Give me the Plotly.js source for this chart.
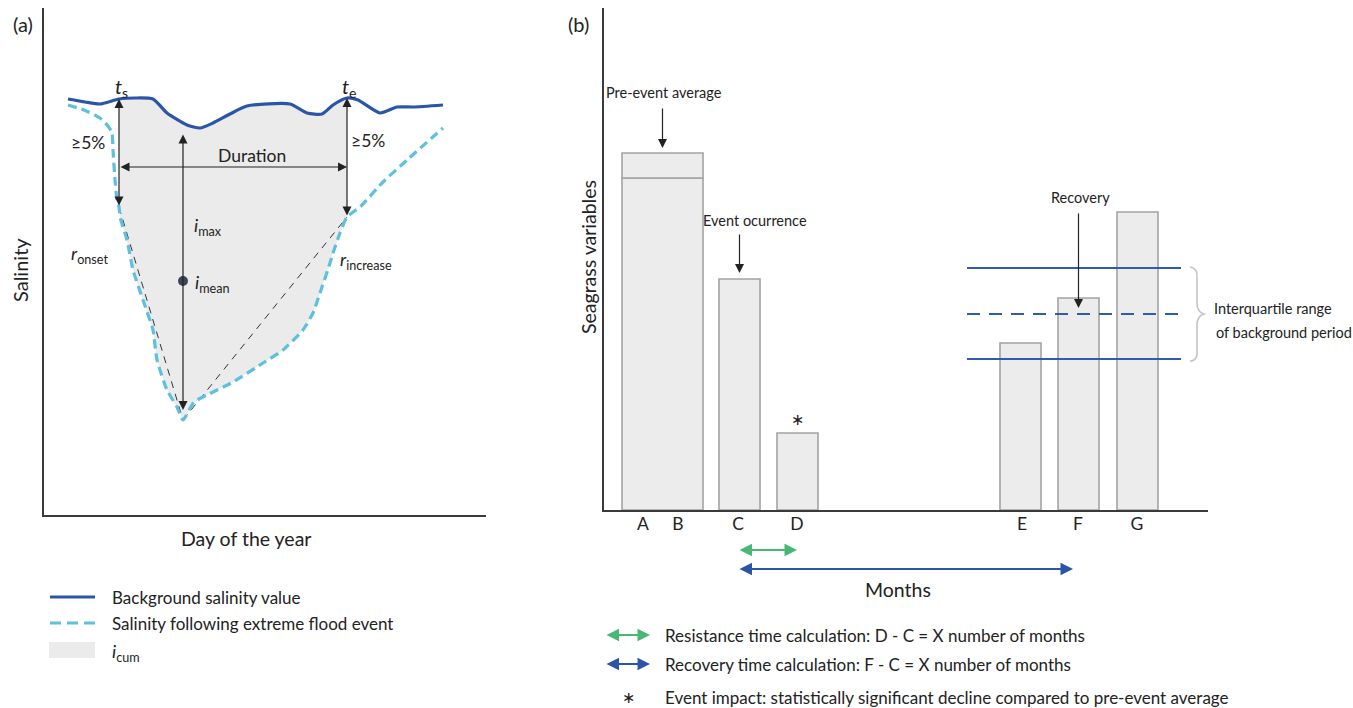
<!DOCTYPE html>
<html>
<head>
<meta charset="utf-8">
<script src="https://cdn.plot.ly/plotly-3.0.1.min.js"></script>
<style>html,body{margin:0;padding:0;background:#fff;}#chart{width:1353px;height:708px;}</style>
</head>
<body>
<div id="chart"></div>
<script>
// ---------- Panel (a): salinity schematic ----------
const dayBg = [24,41,56,75,91,109,123,143,156,169,186,203,246,263,278,289,303,314,336,353,369,399];
const salBg = [416,413,411,416,417,416,402,390,387,392,401,409,411,402,401,410,417,415,402,408,408,410];
const dayFlood = [24,40,56,64,68,69,71,73,75,76,83,89,99,109,113,123,133,139,150,163,189,219,239,259,269,276,286,289,296,303,316,339,363,399];
const salFlood = [410,405,397,389,382,365,335,315,308,298,275,245,215,185,155,125,108,95,113,120,133,152,165,185,202,222,252,262,282,298,308,333,355,387];
const eventStartDay = 75;   // t_s
const eventEndDay = 303;    // t_e
const iMeanValue = 234;
const durationLevel = 348;
const iMaxTop = 382;

// ---------- Panel (b): seagrass schematic ----------
const monthLabels = ['A','B','C','D','E','F','G'];
const monthPos = [39,74,134,193,418,474,533];
const barMonth = [58.5,135.5,193.5,416.5,474.5,533.5];
const barValue = [332,231,77,167,212,298];
const preEventAverage = 357;
const iqrLow = 151, iqrMedian = 196, iqrHigh = 242;
const iqrStart = 363, iqrEnd = 577;

const W = 1353, H = 708;
const PX = x => x / W, PY = y => 1 - y / H;
const FONT = 'Lato, "Open Sans", sans-serif';
const NARROW = '"Liberation Sans Narrow", "Arial Narrow", Lato, sans-serif';
const STAR = '"DejaVu Sans", sans-serif';
const BLUE = '#2a55a8', LIGHT = '#5cc0de', GREEN = '#47b873', INK = '#222222';
const B_X0 = 604; // pixel of panel (b) x-axis origin

// fill polygon (i_cum) between t_s and t_e
const fx = [], fy = [];
dayBg.forEach((d,i)=>{ if(d>=eventStartDay && d<=eventEndDay){fx.push(d);fy.push(salBg[i]);} });
for(let i=dayFlood.length-1;i>=0;i--){ const d=dayFlood[i]; if(d>=eventStartDay && d<=eventEndDay){fx.push(d);fy.push(salFlood[i]);} }

let minIdx = 0; salFlood.forEach((v,i)=>{ if(v<salFlood[minIdx]) minIdx=i; });
const minDay = dayFlood[minIdx], minSal = salFlood[minIdx];
const floodAt = d => salFlood[dayFlood.indexOf(d)];
const bgAt = d => salBg[dayBg.indexOf(d)];

const traces = [
  {x:fx, y:fy, type:'scatter', mode:'lines', fill:'toself', fillcolor:'#ebebeb', line:{width:0}, hoverinfo:'skip', xaxis:'x', yaxis:'y'},
  {x:[eventStartDay,minDay], y:[floodAt(eventStartDay),minSal], type:'scatter', mode:'lines', line:{color:'#333', width:1, dash:'7px,6px'}, xaxis:'x', yaxis:'y'},
  {x:[minDay,eventEndDay], y:[minSal,floodAt(eventEndDay)], type:'scatter', mode:'lines', line:{color:'#333', width:1, dash:'7px,6px'}, xaxis:'x', yaxis:'y'},
  {x:dayFlood, y:salFlood, type:'scatter', mode:'lines', line:{color:LIGHT, width:3.2, dash:'9px,5px', shape:'spline', smoothing:0.5}, xaxis:'x', yaxis:'y'},
  {x:dayBg, y:salBg, type:'scatter', mode:'lines', line:{color:BLUE, width:3.2, shape:'spline', smoothing:0.6}, xaxis:'x', yaxis:'y'},
  {x:[minDay], y:[iMeanValue], type:'scatter', mode:'markers', marker:{color:'#3a4556', size:10}, xaxis:'x', yaxis:'y'},
  // bars
  {x:barMonth, y:barValue, width:[81,41,41,41,41,41], type:'bar', marker:{color:'#ececec', line:{color:'#a3a3a3', width:1.6}}, xaxis:'x2', yaxis:'y2'},
  {x:[barMonth[0]], y:[preEventAverage-barValue[0]], base:[barValue[0]], width:[81], type:'bar', marker:{color:'#ececec', line:{color:'#a3a3a3', width:1.6}}, xaxis:'x2', yaxis:'y2'},
  {x:[iqrStart,iqrEnd], y:[iqrHigh,iqrHigh], type:'scatter', mode:'lines', line:{color:'#2f5cb1', width:2}, xaxis:'x2', yaxis:'y2'},
  {x:[iqrStart,iqrEnd], y:[iqrMedian,iqrMedian], type:'scatter', mode:'lines', line:{color:'#2f5cb1', width:2.2, dash:'13px,9px'}, xaxis:'x2', yaxis:'y2'},
  {x:[iqrStart,iqrEnd], y:[iqrLow,iqrLow], type:'scatter', mode:'lines', line:{color:'#2f5cb1', width:2}, xaxis:'x2', yaxis:'y2'}
];

function txt(text, x, y, size, extra){
  return Object.assign({text:text, x:PX(x), y:PY(y), xref:'paper', yref:'paper', showarrow:false,
    xanchor:'center', yanchor:'middle', font:{family:FONT, size:size, color:INK}}, extra||{});
}
function narrow(text, x, y, extra){
  return txt(text, x, y, 14.5, Object.assign({font:{family:NARROW, size:14.5, color:INK}}, extra||{}));
}
function arrowData(xr, yr, x, y, ax, ay, opts){
  return Object.assign({text:'', xref:xr, yref:yr, axref:xr, ayref:yr, x:x, y:y, ax:ax, ay:ay, showarrow:true,
    arrowhead:2, arrowsize:1.5, arrowwidth:1.2, arrowcolor:INK, standoff:0, startstandoff:0}, opts||{});
}
function arrowPaper(x1,y1,x2,y2,color,width,both){
  return {text:'', xref:'paper', yref:'paper', axref:'pixel', ayref:'pixel', x:PX(x2), y:PY(y2), ax:x1-x2, ay:y1-y2,
    showarrow:true, arrowhead:2, arrowsize:1.25, arrowwidth:width, arrowcolor:color, arrowside: both?'end+start':'end', standoff:0, startstandoff:0};
}

const annotations = [
  txt('(a)', 23, 24, 20),
  txt('(b)', 578, 24, 20),
  txt('Salinity', 20, 270, 20, {textangle:-90}),
  txt('Day of the year', 246, 538, 19.5),
  txt('<i>t</i><sub>s</sub>', 122, 88, 20),
  txt('<i>t</i><sub>e</sub>', 349, 88, 20),
  txt('≥5%', 88, 142, 17.5),
  txt('≥5%', 368, 140, 17.5),
  txt('Duration', 252, 155, 17.5),
  txt('<i>i</i><sub>max</sub>', 208, 227, 18),
  txt('<i>i</i><sub>mean</sub>', 212, 283, 18),
  txt('<i>r</i><sub>onset</sub>', 90, 254, 18),
  txt('<i>r</i><sub>increase</sub>', 366, 260, 18),
  // panel (a) arrows
  arrowData('x','y', eventStartDay, bgAt(eventStartDay), eventStartDay, floodAt(eventStartDay), {arrowside:'end+start'}),
  arrowData('x','y', eventEndDay, bgAt(eventEndDay), eventEndDay, floodAt(eventEndDay), {arrowside:'end+start'}),
  arrowData('x','y', eventEndDay, durationLevel, eventStartDay, durationLevel, {arrowside:'end+start'}),
  arrowData('x','y', minDay, minSal+10, minDay, iMaxTop, {arrowside:'end+start'}),
  // legend (a)
  txt('Background salinity value', 110, 597, 17, {xanchor:'left'}),
  txt('Salinity following extreme flood event', 110, 623, 17, {xanchor:'left'}),
  txt('<i>i</i><sub>cum</sub>', 110, 652, 18, {xanchor:'left'}),
  // panel (b)
  txt('Seagrass variables', 588, 257, 19.5, {textangle:-90}),
  narrow('Pre-event average', 664, 93),
  narrow('Event ocurrence', 755, 220),
  narrow('Recovery', 1080, 198),
  narrow('Interquartile range', 1212, 308, {xanchor:'left'}),
  narrow('of background period', 1214, 332, {xanchor:'left'}),
  {text:'∗', x:barMonth[2], y:barValue[2], xref:'x2', yref:'y2', yshift:14, showarrow:false, font:{family:STAR, size:16, color:INK}},
  arrowData('x2','y2', barMonth[0], preEventAverage+5, barMonth[0], preEventAverage+46),
  arrowData('x2','y2', barMonth[1], barValue[1]+6, barMonth[1], barValue[1]+46),
  arrowData('x2','y2', barMonth[4], iqrMedian+6, barMonth[4], iqrMedian+102),
  arrowPaper(B_X0+monthPos[2], 550, B_X0+monthPos[3], 550, GREEN, 2, true),
  arrowPaper(B_X0+monthPos[2], 569, B_X0+monthPos[5]-5, 569, BLUE, 2, true),
  txt('Months', 898, 589, 19.5),
  // legend (b)
  arrowPaper(605, 635, 650, 635, GREEN, 2, true),
  arrowPaper(605, 664, 650, 664, BLUE, 2, true),
  txt('∗', 628, 697, 16, {font:{family:STAR, size:16, color:INK}}),
  txt('Resistance time calculation: D - C = X number of months', 663, 635, 17, {xanchor:'left'}),
  txt('Recovery time calculation: F - C = X number of months', 663, 664, 17, {xanchor:'left'}),
  txt('Event impact: statistically significant decline compared to pre-event average', 663, 697, 17, {xanchor:'left'})
];

// curly brace (paper coords via pixel helpers)
const br = (x,y)=>PX(x).toFixed(5)+','+PY(y).toFixed(5);
const bracePath = 'M'+br(1190,267)+' Q'+br(1198,268)+' '+br(1197,278)+' L'+br(1197,303)+' Q'+br(1197,312)+' '+br(1204,314)+
  ' Q'+br(1197,316)+' '+br(1197,325)+' L'+br(1197,350)+' Q'+br(1198,361)+' '+br(1190,361);

const shapes = [
  {type:'path', xref:'paper', yref:'paper', path:bracePath, line:{color:'#c4c4c4', width:1.6}},
  {type:'line', xref:'paper', yref:'paper', x0:PX(50), x1:PX(95), y0:PY(597), y1:PY(597), line:{color:BLUE, width:3}},
  {type:'line', xref:'paper', yref:'paper', x0:PX(50), x1:PX(95), y0:PY(623), y1:PY(623), line:{color:LIGHT, width:3, dash:'11px,6px'}},
  {type:'rect', xref:'paper', yref:'paper', x0:PX(49), x1:PX(95), y0:PY(658), y1:PY(642), fillcolor:'#ebebeb', line:{width:0}}
];

const axBase = {showgrid:false, zeroline:false, showline:true, linecolor:'#3a3a3a', linewidth:2, ticks:'', fixedrange:true};
const layout = {
  width:W, height:H, margin:{l:0,r:0,t:0,b:0}, paper_bgcolor:'#fff', plot_bgcolor:'rgba(0,0,0,0)',
  showlegend:false, barmode:'overlay', font:{family:FONT, color:INK},
  xaxis: Object.assign({}, axBase, {domain:[PX(44),PX(486)], range:[0,442], showticklabels:false, anchor:'y'}),
  yaxis: Object.assign({}, axBase, {domain:[PY(515),PY(8)], range:[0,507], showticklabels:false, anchor:'x'}),
  xaxis2: Object.assign({}, axBase, {domain:[PX(604),PX(1208)], range:[0,604], anchor:'y2', tickmode:'array', tickvals:monthPos, ticktext:monthLabels, ticklabelstandoff:-3, tickfont:{family:FONT, size:17.5, color:INK}}),
  yaxis2: Object.assign({}, axBase, {domain:[PY(510),PY(8)], range:[0,502], showticklabels:false, anchor:'x2'}),
  annotations: annotations,
  shapes: shapes
};
Plotly.newPlot('chart', traces, layout, {displayModeBar:false, staticPlot:true});
</script>
</body>
</html>
